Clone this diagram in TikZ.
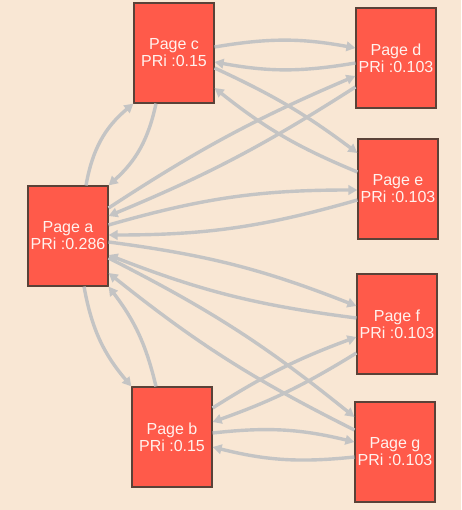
\documentclass[tikz,border=0pt]{standalone}
\usepackage{fontspec}
\setmainfont{Liberation Sans}
\usetikzlibrary{arrows.meta}
\definecolor{bgpeach}{HTML}{F9E7D4}
\definecolor{boxred}{HTML}{FF5A4A}
\definecolor{boxedge}{HTML}{5A4238}
\definecolor{edgegray}{HTML}{C4C4C4}
\definecolor{txtwhite}{HTML}{FFF2EE}
\begin{document}
\begin{tikzpicture}[x=1pt,y=1pt,
  page/.style={draw=boxedge, line width=1.2pt, fill=boxred, minimum width=80pt, minimum height=100pt,
    inner sep=0pt, align=center, text=txtwhite, font=\fontsize{16}{17}\selectfont},
  link/.style={draw=edgegray, line width=3.4pt, -{Triangle[length=9pt,width=9.5pt]}}]
\useasboundingbox (0,0) rectangle (461,-510);
\fill[bgpeach] (0,0) rectangle (461,-510);

\node[page] (a) at (68,-236) {Page a\\PRi :0.286};
\node[page] (b) at (172,-437) {Page b\\PRi :0.15};
\node[page] (c) at (174,-53) {Page c\\PRi :0.15};
\node[page] (d) at (396,-58) {Page d\\PRi :0.103};
\node[page] (e) at (398,-189) {Page e\\PRi :0.103};
\node[page] (f) at (397,-324) {Page f\\PRi :0.103};
\node[page] (g) at (395,-452) {Page g\\PRi :0.103};

% a <-> c
\draw[link] ([xshift=18]a.north) to[bend left=20] (c.south west);
\draw[link] ([xshift=-18]c.south) to[bend left=18] (a.north east);
% c <-> d
\draw[link] ([yshift=6]c.east) to[bend left=10] ([yshift=10]d.west);
\draw[link] ([yshift=-5]d.west) to[bend left=10] ([yshift=-9]c.east);
% c <-> e
\draw[link] ([yshift=-15]c.east) to[bend left=6] ([yshift=36]e.west);
\draw[link] ([yshift=17]e.west) to[bend left=8] ([yshift=-35]c.east);
% a <-> d
\draw[link] ([yshift=28]a.east) to[bend left=5] ([yshift=-18]d.west);
\draw[link] ([yshift=-29]d.west) to[bend left=5] ([yshift=20]a.east);
% a <-> e
\draw[link] ([yshift=11]a.east) to[bend left=8] ([yshift=-1]e.west);
\draw[link] ([yshift=-11]e.west) to[bend left=8] ([yshift=1]a.east);
% a <-> f
\draw[link] ([yshift=-6]a.east) to[bend left=7] ([yshift=18]f.west);
\draw[link] ([yshift=6]f.west) to[bend left=7] ([yshift=-19]a.east);
% a <-> g
\draw[link] ([yshift=-22]a.east) to[bend left=6] ([yshift=35]g.west);
\draw[link] ([yshift=22]g.west) to[bend left=6] ([yshift=-37]a.east);
% a <-> b
\draw[link] ([xshift=16]a.south) to[bend right=15] (b.north west);
\draw[link] ([xshift=-16]b.north) to[bend right=12] (a.south east);
% b <-> f
\draw[link] ([yshift=29]b.east) to[bend left=6] ([yshift=-13]f.west);
\draw[link] ([yshift=-29]f.west) to[bend left=6] ([yshift=15]b.east);
% b <-> g
\draw[link] ([yshift=4]b.east) to[bend left=10] ([yshift=10]g.west);
\draw[link] ([yshift=-5]g.west) to[bend left=10] ([yshift=-10]b.east);
\end{tikzpicture}
\end{document}
